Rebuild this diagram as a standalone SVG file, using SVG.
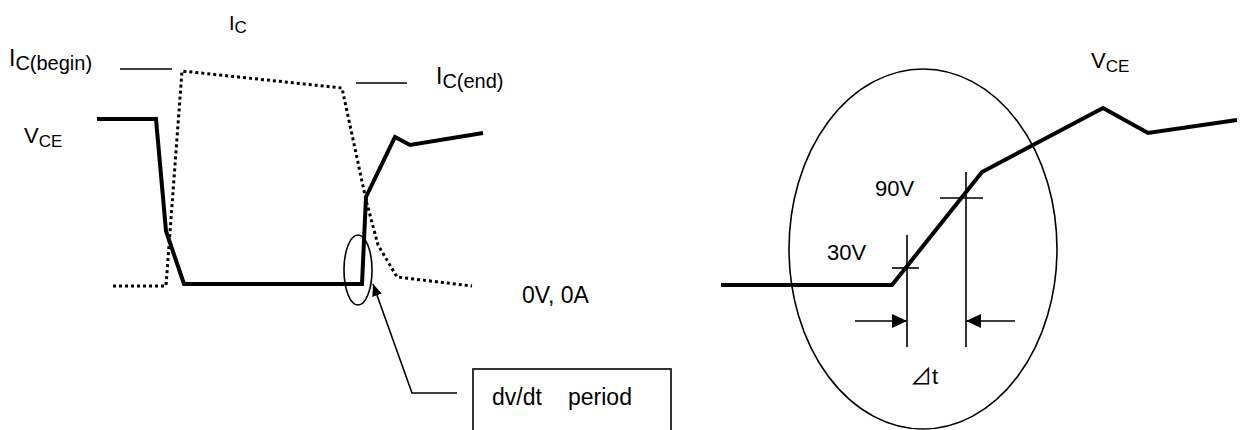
<svg xmlns="http://www.w3.org/2000/svg" width="1243" height="430" viewBox="0 0 1243 430">
<style>
  text { font-family: "Liberation Sans", Arial, sans-serif; fill: #000; }
  .lbl { font-size: 22px; }
  .big { font-size: 23px; }
  .sub { font-size: 17px; }
  .sub2 { font-size: 20px; }
  .thick { fill: none; stroke: #000; stroke-width: 4; stroke-linejoin: miter; }
  .dot { fill: none; stroke: #000; stroke-width: 3; stroke-dasharray: 3 3; }
  .thin { fill: none; stroke: #000; stroke-width: 1.6; }
</style>
<defs>
  <marker id="ah" viewBox="0 0 12 10" refX="12" refY="5" markerWidth="12" markerHeight="10" markerUnits="userSpaceOnUse" orient="auto">
    <path d="M0,0 L12,5 L0,10 Z" fill="#000"/>
  </marker>
  <marker id="dim" viewBox="0 0 15 14" refX="15" refY="7" markerWidth="15" markerHeight="14" markerUnits="userSpaceOnUse" orient="auto">
    <path d="M0,0 L15,7 L0,14 Z" fill="#000"/>
  </marker>
</defs>
<rect width="1243" height="430" fill="#fff"/>

<g id="ic-waveform">
  <path class="dot" d="M113,286 L166,286 L182,71 L342,88 L366,200 L378,245 L397,277 L472,286"/>
  <line class="thin" x1="120" y1="69" x2="172" y2="69" stroke-width="1.2"/>
  <line class="thin" x1="356" y1="83" x2="407" y2="83" stroke-width="1.2"/>
</g>

<g id="vce-waveform-left">
  <path class="thick" d="M97,119 L156,119 L166,231 L184,284 L362,284 L366,197 L395,137 L410,145 L483,133"/>
</g>

<g id="label-ic">
  <text x="229" y="30" font-size="20">I<tspan class="sub" dy="3">C</tspan></text>
</g>
<g id="label-ic-begin">
  <text class="big" x="9" y="66">I<tspan class="sub2" dy="4">C(begin)</tspan></text>
</g>
<g id="label-ic-end">
  <text class="big" x="436" y="84">I<tspan class="sub2" dy="4">C(end)</tspan></text>
</g>
<g id="label-vce-left">
  <text class="lbl" x="24" y="143">V<tspan class="sub" dy="4">CE</tspan></text>
</g>

<g id="dvdt-marker">
  <ellipse class="thin" cx="358" cy="270" rx="14" ry="35"/>
</g>

<g id="label-0v0a">
  <text class="big" x="522" y="303">0V, 0A</text>
</g>

<g id="dvdt-box">
  <rect class="thin" x="473" y="369" width="198" height="75"/>
  <text class="big" x="492" y="405">dv/dt</text>
  <text class="big" x="568" y="405">period</text>
</g>

<g id="zoom-ellipse">
  <ellipse class="thin" cx="923" cy="249" rx="134" ry="180"/>
</g>

<g id="vce-waveform-right">
  <path class="thick" d="M721,285 L892,285 L982,172 L1103,108 L1148,133 L1237,120"/>
</g>

<g id="label-vce-right">
  <text class="lbl" x="1091" y="68">V<tspan class="sub" dy="4">CE</tspan></text>
</g>

<g id="mark-30v">
  <line class="thin" x1="907" y1="235" x2="907" y2="347"/>
  <line class="thin" x1="892" y1="268" x2="919" y2="268"/>
  <text class="lbl" x="827" y="260">30V</text>
</g>

<g id="mark-90v">
  <line class="thin" x1="966" y1="172" x2="966" y2="347"/>
  <line class="thin" x1="940" y1="198" x2="983" y2="198"/>
  <text class="lbl" x="875" y="196">90V</text>
</g>

<g id="label-dt">
  <text x="910" y="384" font-size="22" style="font-family: 'Liberation Sans', 'Noto Sans CJK JP', sans-serif;">⊿t</text>
</g>

<g id="connectors">
  <polyline class="thin" points="457,393 412,393 373,284" marker-end="url(#ah)"/>
  <line class="thin" x1="855" y1="321" x2="907" y2="321" marker-end="url(#dim)"/>
  <line class="thin" x1="1015" y1="321" x2="966" y2="321" marker-end="url(#dim)"/>
</g>
</svg>
